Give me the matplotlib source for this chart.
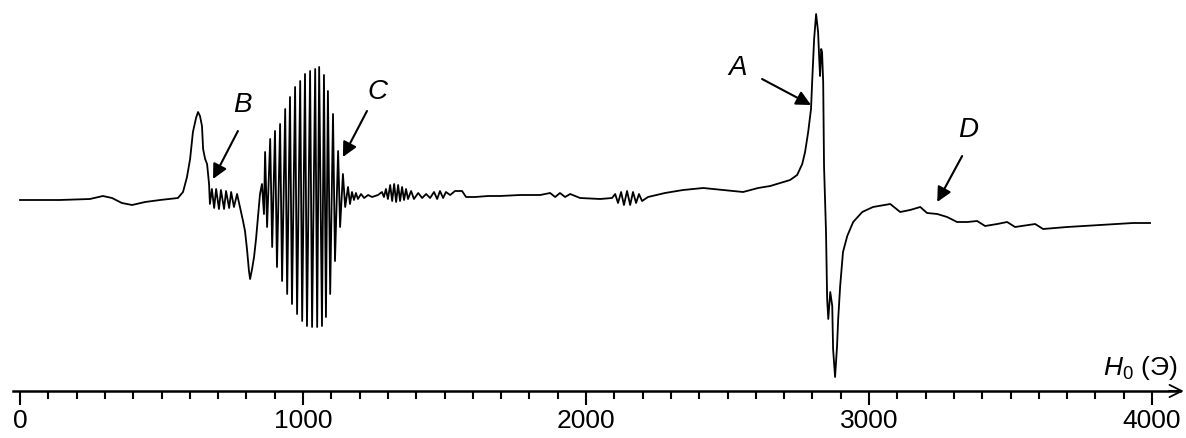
import numpy as np
import matplotlib.pyplot as plt

plt.rcParams['font.family'] = ['Liberation Sans', 'DejaVu Sans']
plt.rcParams['mathtext.fontset'] = 'custom'
plt.rcParams['mathtext.rm'] = 'Liberation Sans'
plt.rcParams['mathtext.it'] = 'Liberation Sans:italic'

# spectrum: field H0 (Oe) and signal (arb. units)
h_field = [0, 141, 247, 293, 325, 360, 396, 442, 495, 558, 576, 590, 601, 611, 622, 629, 636, 643,
           647, 654, 661, 668,
           671, 678, 686, 693, 703, 710, 721, 728, 739, 746, 756, 767,
           777, 788, 795, 802, 809, 813, 820, 827, 834, 841, 848,
           855, 862, 866, 873, 884, 891, 901, 908, 919, 926, 937, 944, 954, 961, 972, 979,
           990, 997, 1007, 1014, 1025, 1032, 1043, 1050, 1057, 1067, 1074, 1081, 1088, 1096,
           1106, 1113, 1124, 1131, 1141, 1149, 1159, 1166,
           1173, 1180, 1187, 1194, 1205, 1216, 1230, 1244, 1265,
           1279, 1286, 1293, 1300, 1308, 1315, 1322, 1329, 1336, 1343, 1350, 1357, 1364, 1371,
           1382, 1392, 1407, 1421, 1435, 1449, 1463, 1474, 1484, 1495, 1505, 1520, 1537, 1562,
           1569, 1576, 1608, 1654, 1696, 1767, 1838, 1873, 1891, 1908, 1926, 1944, 1979, 2050, 2092,
           2103, 2113, 2124, 2134, 2145, 2156, 2166, 2177, 2187, 2198, 2219,
           2279, 2343, 2414, 2484, 2555, 2608, 2651, 2686, 2721, 2746, 2764, 2774, 2785, 2795,
           2799, 2806, 2813, 2820, 2824, 2827, 2831, 2834, 2838, 2841, 2848, 2852, 2856, 2863,
           2870, 2873, 2880, 2887, 2891, 2898, 2908, 2923, 2944, 2976, 3014, 3075, 3110, 3145,
           3181, 3205, 3241, 3276, 3311, 3347, 3382, 3410, 3453, 3488, 3516, 3587, 3615, 3700,
           3817, 3933, 3993]
signal = [-1, -1, 0, 3, 1, -4, -6, -3, -1, 1, 7, 22, 40, 67, 81, 87, 83, 73,
          50, 40, 35, 15,
          -5, 10, -9, 10, -10, 9, -10, 8, -9, 7, -8, 5,
          -8, -22, -32, -50, -72, -80, -70, -58, -40, -18, 5,
          15, -15, 47, -28, 60, -48, 68, -68, 75, -82, 90, -95, 102, -105, 112, -115,
          118, -122, 125, -127, 128, -128, 130, -128, 132, -127, 124, -118, 108, -95,
          85, -62, 48, -28, 25, -8, 12, -5,
          7, -1, 6, 0, 5, 1, 4, 2, 4,
          7, 2, 10, 0, 14, -2, 15, -3, 14, -2, 12, -1, 10, 0,
          8, 0, 6, 1, 5, 1, 7, 0, 8, 1, 7, 4, 8, 8,
          5, 2, 2, 3, 3, 4, 4, 6, 2, 6, 2, 5, 1, 0, 1,
          5, -4, 7, -6, 8, -6, 7, -4, 5, -2, 2,
          6, 9, 11, 9, 7, 11, 13, 16, 19, 24, 35, 47, 67, 90,
          117, 160, 185, 167, 140, 123, 150, 147, 117, 33, -33, -100, -120, -93,
          -107, -150, -178, -147, -120, -87, -53, -37, -23, -13, -8, -5, -13, -11,
          -8, -14, -15, -18, -23, -23, -22, -27, -25, -23, -28, -25, -30, -28,
          -26, -24, -24]

# labelled features: name, text position, arrow start, arrow tip
labels = ['A', 'B', 'C', 'D']
label_xy = [(2537, 132), (785, 95), (1262, 108), (3350, 70)]
arrow_from = [(2622, 120), (770, 68), (1226, 88), (3329, 43)]
arrow_to = [(2795, 94), (682, 20), (1141, 42), (3241, -3)]

axis_y = -192

fig = plt.figure(figsize=(11.86, 4.39), dpi=100)
ax = fig.add_axes([0, 0, 1, 1])
ax.plot(h_field, signal, color='black', lw=1.3)

for name, txy, a0, a1 in zip(labels, label_xy, arrow_from, arrow_to):
    ax.text(txy[0], txy[1], name, fontsize=20, style='italic', ha='center', va='center')
    ax.annotate('', xy=a1, xytext=a0,
                arrowprops=dict(arrowstyle='-|>', color='black', lw=1.5, mutation_scale=22,
                                shrinkA=0, shrinkB=0))

ax.set_xlim(-70.7, 4120)
ax.set_ylim(-239, 200)
for s in ['top', 'left', 'right']:
    ax.spines[s].set_visible(False)
ax.spines['bottom'].set_position(('data', axis_y))
ax.spines['bottom'].set_bounds(-25, 4100)
ax.spines['bottom'].set_linewidth(1.8)
ax.annotate('', xy=(4112, axis_y), xytext=(4060, axis_y),
            arrowprops=dict(arrowstyle='->', color='black', lw=1.3, mutation_scale=22,
                            shrinkA=0, shrinkB=0))
ax.set_xticks([0, 1000, 2000, 3000, 4000])
ax.set_xticks(np.arange(0, 4001, 100), minor=True)
ax.tick_params(axis='x', which='major', length=10, width=1.5, pad=2, labelsize=19)
ax.tick_params(axis='x', which='minor', length=6, width=1.5)
ax.set_yticks([])
ax.text(4088, -168, '$H_0$ (Э)', fontsize=19, ha='right', va='center')

plt.savefig('out.png', dpi=100)
